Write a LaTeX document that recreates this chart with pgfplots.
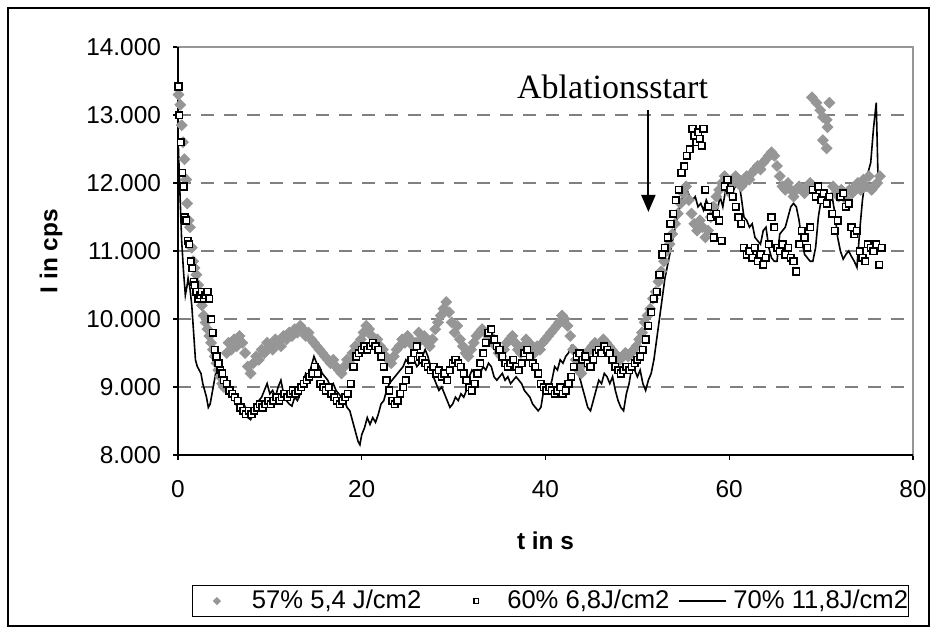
\documentclass[border=0pt]{standalone}
\usepackage{pgfplots}
\pgfplotsset{compat=1.18}
\usepackage{fontspec}
\setmainfont{Liberation Sans}
\newfontfamily\timesfont{Liberation Serif}
\usetikzlibrary{arrows.meta}
\definecolor{dgray}{RGB}{150,150,150}
\definecolor{ggray}{RGB}{128,128,128}
\begin{document}
\begin{tikzpicture}
\useasboundingbox (0pt,0pt) rectangle (468.5pt,316pt);
\draw[line width=0.6pt] (4pt,3pt) rectangle (464.5pt,312pt);
\begin{axis}[
  at={(89pt,88.5pt)}, anchor=south west,
  scale only axis, width=367.5pt, height=204pt,
  xmin=0, xmax=80, ymin=8000, ymax=14000,
  xtick={0,20,40,60,80}, ytick={8000,9000,10000,11000,12000,13000,14000},
  tick align=outside, xtick pos=bottom, ytick pos=left,
  major tick length=2.5pt,
  tick style={black, line width=0.6pt},
  axis line style={draw=dgray, line width=0.8pt},
  ymajorgrids,
  grid style={ggray, line width=0.8pt, dash pattern=on 6.5pt off 5pt},
  scaled y ticks=false,
  /pgf/number format/.cd, 1000 sep={.}, assume math mode=true,
  /pgfplots/.cd,
  ticklabel style={font=\fontsize{12.2}{14}\selectfont},
  xticklabel style={yshift=-6.5pt},
  yticklabel style={xshift=-2.5pt},
  xlabel={t in s}, ylabel={I in cps},
  label style={font=\fontsize{12.2}{14}\selectfont\bfseries},
  xlabel style={at={(axis description cs:0.5,-0.2108)}, anchor=center},
  ylabel style={at={(axis description cs:-0.1728,0.5)}, anchor=center},
  legend columns=3,
  legend style={at={(axis description cs:0.5068,-0.358)}, anchor=center,
    draw=black, line width=0.5pt, font=\fontsize{12.8}{14}\selectfont,
    inner xsep=0pt, inner ysep=2.5pt, column sep=0pt,
    nodes={inner sep=0pt, anchor=west}},
  clip=false,
]
\addplot[only marks, mark=square*, mark size=1.9pt, mark options={rotate=45, fill=dgray, draw=dgray},
  legend image code/.code={\path[draw=none,fill=none] (-12pt,-3pt) rectangle (17.5pt,3pt);
    \draw[mark size=1.2pt] plot coordinates {(0pt,0pt)};}] coordinates {
(0.05,13300) (0.25,13150) (0.4,12850) (0.55,12600) (0.7,12350) (0.9,12050) (1.0,11700) (1.15,11450) (1.3,11350) (1.5,11050) (1.65,10850) (1.8,10750) (2.0,10650) (2.2,10500) (2.4,10300) (2.6,10200) (2.8,10050) (3.0,9950) (3.2,9850) (3.4,9750) (3.6,9650) (3.8,9550) (4.0,9450) (4.2,9350) (4.4,9250) (4.6,9150) (4.8,9050) (5.0,9000) (5.3,9500) (5.5,9650) (5.8,9550) (6.1,9700) (6.4,9600) (6.7,9750) (7.0,9650) (7.3,9500) (7.6,9300) (7.9,9200) (8.2,9350) (8.5,9450) (8.8,9400) (9.1,9550) (9.4,9500) (9.7,9650) (10.0,9600) (10.3,9550) (10.6,9700) (10.9,9650) (11.2,9600) (11.5,9750) (11.8,9700) (12.1,9800) (12.4,9750) (12.7,9850) (13.0,9800) (13.3,9900) (13.6,9850) (13.9,9750) (14.2,9800) (14.5,9700) (14.8,9650) (15.1,9600) (15.4,9550) (15.7,9500) (16.0,9450) (16.3,9400) (16.6,9350) (16.9,9400) (17.2,9300) (17.5,9250) (17.8,9200) (18.1,9300) (18.4,9400) (18.7,9350) (19.0,9500) (19.3,9600) (19.6,9550) (19.9,9700) (20.2,9800) (20.5,9900) (20.8,9850) (21.1,9750) (21.4,9650) (21.7,9700) (22.0,9600) (22.3,9550) (22.6,9450) (22.9,9400) (23.2,9350) (23.5,9450) (23.8,9550) (24.1,9600) (24.4,9700) (24.7,9650) (25.0,9750) (25.3,9700) (25.6,9600) (25.9,9650) (26.2,9800) (26.5,9700) (26.8,9750) (27.1,9650) (27.4,9600) (27.7,9700) (28.0,9850) (28.3,9950) (28.6,10050) (28.9,10150) (29.2,10250) (29.5,10100) (29.8,9950) (30.1,9800) (30.4,9900) (30.7,9700) (31.0,9600) (31.3,9500) (31.6,9450) (31.9,9550) (32.2,9650) (32.5,9750) (32.8,9800) (33.1,9850) (33.4,9800) (33.7,9700) (34.0,9750) (34.3,9650) (34.6,9600) (34.9,9500) (35.2,9450) (35.5,9550) (35.8,9650) (36.1,9700) (36.4,9750) (36.7,9650) (37.0,9550) (37.3,9500) (37.6,9600) (37.9,9700) (38.2,9650) (38.5,9550) (38.8,9500) (39.1,9600) (39.4,9550) (39.7,9650) (40.0,9700) (40.3,9750) (40.6,9800) (40.9,9850) (41.2,9900) (41.5,9950) (41.8,10050) (42.1,10000) (42.4,9900) (42.7,9750) (43.0,9550) (43.3,9400) (43.6,9250) (43.9,9200) (44.2,9350) (44.5,9500) (44.8,9550) (45.1,9600) (45.4,9650) (45.7,9550) (46.0,9600) (46.3,9700) (46.6,9650) (46.9,9600) (47.2,9550) (47.5,9500) (47.8,9450) (48.1,9400) (48.4,9450) (48.7,9500) (49.0,9450) (49.3,9500) (49.6,9550) (49.9,9600) (50.2,9700) (50.5,9800) (50.8,9950) (51.1,10050) (51.4,10150) (51.7,10300) (52.0,10400) (52.3,10550) (52.6,10700) (52.9,10850) (53.2,11000) (53.5,11100) (53.8,11250) (54.1,11400) (54.4,11550) (54.7,11700) (55.0,11850) (55.3,11950) (55.6,11750) (55.9,11550) (56.2,11400) (56.5,11300) (56.8,11450) (57.1,11350) (57.4,11200) (57.7,11300) (58.0,11500) (58.3,11650) (58.6,11800) (58.9,11900) (59.2,12000) (59.5,12100) (59.8,11950) (60.1,11850) (60.4,12000) (60.7,12100) (61.0,12050) (61.3,11950) (61.6,12000) (61.9,12100) (62.2,12050) (62.5,12150) (62.8,12200) (63.1,12250) (63.4,12200) (63.7,12300) (64.0,12350) (64.3,12400) (64.6,12450) (64.9,12400) (65.2,12250) (65.5,12100) (65.8,11950) (66.1,11900) (66.4,12000) (66.7,11900) (67.0,11800) (67.3,11900) (67.6,11950) (67.9,11900) (68.2,11850) (68.5,11950) (68.8,12000) (69.0,13260) (69.5,13180) (69.9,13070) (70.2,12970) (70.6,12930) (70.9,13180) (70.7,12820) (70.2,12630) (70.6,12510) (71.3,11950) (71.6,11850) (71.9,11800) (72.2,11900) (72.5,11850) (72.8,11750) (73.1,11900) (73.4,11850) (73.7,11950) (74.0,12000) (74.3,11900) (74.6,12050) (74.9,11950) (75.2,12100) (75.5,11900) (75.8,11950) (76.1,12000) (76.4,12100)
};
\addlegendentry{57\% 5,4 J/cm2}
\addplot[only marks, mark=square*, mark size=1.65pt, mark options={fill=white, draw=black, line width=0.8pt},
  legend image code/.code={\path[draw=none,fill=none] (-27.5pt,-3pt) rectangle (15.5pt,3pt);
    \draw[mark size=1.2pt] plot coordinates {(0pt,0pt)};}] coordinates {
(0.05,13420) (0.12,13000) (0.3,12600) (0.45,12150) (0.6,11950) (0.75,11500) (0.9,11450) (1.05,11150) (1.2,11100) (1.4,10850) (1.55,10750) (1.7,10550) (1.85,10500) (2.0,10400) (2.2,10300) (2.4,10350) (2.6,10400) (2.8,10300) (3.0,10350) (3.2,10400) (3.4,10300) (3.6,10000) (3.8,9800) (4.0,9550) (4.2,9450) (4.4,9350) (4.6,9250) (4.8,9200) (5.0,9100) (5.3,9050) (5.6,8950) (5.9,8900) (6.2,8850) (6.5,8800) (6.8,8700) (7.1,8650) (7.4,8600) (7.7,8650) (8.0,8600) (8.3,8650) (8.6,8700) (8.9,8750) (9.2,8700) (9.5,8750) (9.8,8800) (10.1,8750) (10.4,8800) (10.7,8850) (11.0,8800) (11.3,8850) (11.6,8900) (11.9,8850) (12.2,8900) (12.5,8950) (12.8,8900) (13.1,8950) (13.4,9000) (13.7,9050) (14.0,9100) (14.3,9150) (14.6,9200) (14.9,9300) (15.2,9200) (15.5,9050) (15.8,9000) (16.1,8950) (16.4,9000) (16.7,8900) (17.0,8850) (17.3,8800) (17.6,8750) (17.9,8800) (18.2,8850) (18.5,8900) (18.8,9050) (19.1,9300) (19.4,9450) (19.7,9500) (20.0,9550) (20.3,9600) (20.6,9550) (20.9,9600) (21.2,9650) (21.5,9600) (21.8,9550) (22.1,9450) (22.4,9300) (22.7,9100) (23.0,8950) (23.3,8800) (23.6,8750) (23.9,8800) (24.2,8900) (24.5,9000) (24.8,9100) (25.1,9250) (25.4,9400) (25.7,9500) (26.0,9600) (26.3,9450) (26.6,9400) (26.9,9350) (27.2,9300) (27.5,9250) (27.8,9300) (28.1,9200) (28.4,9250) (28.7,9150) (29.0,9200) (29.3,9100) (29.6,9250) (29.9,9350) (30.2,9400) (30.5,9350) (30.8,9300) (31.1,9200) (31.4,9100) (31.7,9000) (32.0,8950) (32.3,9050) (32.6,9200) (32.9,9350) (33.2,9500) (33.5,9650) (33.8,9800) (34.1,9850) (34.4,9700) (34.7,9600) (35.0,9550) (35.3,9450) (35.6,9350) (35.9,9300) (36.2,9350) (36.5,9400) (36.8,9300) (37.1,9250) (37.4,9350) (37.7,9500) (38.0,9550) (38.3,9450) (38.6,9350) (38.9,9300) (39.2,9200) (39.5,9050) (39.8,9000) (40.1,8950) (40.4,9000) (40.7,8950) (41.0,8900) (41.3,8950) (41.6,9000) (41.9,8900) (42.2,8950) (42.5,9050) (42.8,9150) (43.1,9300) (43.4,9450) (43.7,9500) (44.0,9400) (44.3,9450) (44.6,9350) (44.9,9300) (45.2,9400) (45.5,9500) (45.8,9550) (46.1,9500) (46.4,9600) (46.7,9550) (47.0,9500) (47.3,9400) (47.6,9300) (47.9,9250) (48.2,9200) (48.5,9250) (48.8,9300) (49.1,9250) (49.4,9300) (49.7,9350) (50.0,9400) (50.3,9450) (50.6,9550) (50.9,9700) (51.2,9900) (51.5,10100) (51.8,10300) (52.1,10400) (52.4,10650) (52.7,10950) (53.0,11050) (53.3,11200) (53.6,11400) (53.9,11550) (54.2,11750) (54.5,11900) (54.8,12150) (55.1,12250) (55.4,12400) (55.7,12500) (56.0,12800) (56.2,12700) (56.4,12600) (56.6,12750) (56.8,12650) (57.0,12550) (57.2,12800) (57.4,11900) (57.7,11650) (58.0,11500) (58.3,11200) (58.6,11550) (58.9,11450) (59.2,11150) (59.5,11950) (59.8,12050) (60.1,11900) (60.4,11800) (60.7,11650) (61.0,11500) (61.3,11400) (61.6,11050) (61.9,10950) (62.2,11000) (62.5,10900) (62.8,11050) (63.1,10850) (63.4,10950) (63.7,10800) (64.0,10900) (64.3,11100) (64.6,11500) (64.9,11350) (65.2,11050) (65.5,11000) (65.8,11100) (66.1,10950) (66.4,11050) (66.7,10900) (67.0,10850) (67.3,10700) (67.6,11100) (67.9,11300) (68.2,11200) (68.5,11050) (68.8,11350) (69.1,11900) (69.4,11800) (69.7,11950) (70.0,11750) (70.3,11850) (70.6,11700) (70.9,11800) (71.2,11550) (71.5,11300) (71.8,11450) (72.1,11800) (72.4,11850) (72.7,11650) (73.0,11700) (73.3,11350) (73.6,11250) (73.9,11300) (74.2,11000) (74.5,10900) (74.8,10850) (75.1,11100) (75.4,11050) (75.7,11000) (76.0,11100) (76.3,10800) (76.6,11050)
};
\addlegendentry{60\% 6,8J/cm2}
\addplot[black, line width=0.8pt, mark=none,
  legend image code/.code={\path[draw=none,fill=none] (-5pt,-3pt) rectangle (27pt,3pt);
    \draw (0pt,0pt) -- (23.5pt,0pt);}] coordinates {
(0,12700) (0.2,11900) (0.4,11150) (0.6,10700) (0.8,10350) (1.0,10500) (1.1,10600) (1.3,10450) (1.5,10200) (1.7,9800) (1.9,9400) (2.1,9300) (2.3,9250) (2.5,9200) (2.7,9050) (2.9,8950) (3.1,8850) (3.3,8700) (3.5,8750) (3.7,8900) (3.9,9050) (4.1,9200) (4.3,9350) (4.5,9300) (4.7,9150) (4.9,9100) (5.1,9050) (5.3,9000) (5.5,8950) (5.7,9000) (5.9,8900) (6.1,8800) (6.3,8750) (6.5,8700) (6.8,8650) (7.0,8600) (7.3,8700) (7.6,8550) (7.9,8520) (8.2,8600) (8.5,8650) (8.8,8800) (9.1,8850) (9.4,8950) (9.7,9050) (10.0,8900) (10.3,8950) (10.6,8850) (10.9,9000) (11.2,9100) (11.5,8900) (11.8,8800) (12.1,8750) (12.4,8720) (12.7,8850) (13.0,8800) (13.3,8900) (13.6,9050) (13.9,9200) (14.2,9150) (14.5,9300) (14.8,9450) (15.1,9350) (15.4,9300) (15.7,9200) (16.0,9150) (16.3,9100) (16.6,9000) (16.9,9050) (17.2,8950) (17.5,8900) (17.8,8850) (18.1,8800) (18.4,8700) (18.7,8650) (19.0,8500) (19.3,8350) (19.6,8200) (19.8,8150) (20.0,8300) (20.3,8400) (20.6,8550) (20.9,8450) (21.2,8550) (21.5,8480) (21.8,8600) (22.1,8750) (22.4,8800) (22.7,8950) (23.0,9050) (23.3,9100) (23.6,9150) (23.9,9200) (24.2,9250) (24.5,9300) (24.8,9400) (25.1,9350) (25.4,9450) (25.7,9400) (26.0,9300) (26.3,9350) (26.6,9450) (26.9,9550) (27.2,9450) (27.5,9300) (27.8,9150) (28.1,9050) (28.4,8950) (28.7,9000) (29.0,8900) (29.3,8800) (29.6,8700) (29.9,8750) (30.2,8850) (30.5,8800) (30.8,8900) (31.1,8850) (31.4,8950) (31.7,9150) (32.0,9250) (32.3,9200) (32.6,9250) (32.9,9200) (33.2,9300) (33.5,9250) (33.8,9350) (34.1,9300) (34.4,9150) (34.7,9100) (35.0,9150) (35.3,9200) (35.6,9100) (35.9,9150) (36.2,9050) (36.5,9100) (36.8,9150) (37.1,9100) (37.4,9050) (37.7,8950) (38.0,8900) (38.3,8850) (38.6,8750) (38.9,8700) (39.2,8650) (39.5,8700) (39.8,8950) (40.1,9000) (40.4,8950) (40.7,9100) (41.0,9300) (41.3,9250) (41.6,9400) (41.9,9350) (42.2,9450) (42.5,9500) (42.8,9600) (43.1,9500) (43.4,9300) (43.7,9150) (44.0,9000) (44.3,8850) (44.6,8700) (44.9,8650) (45.2,8800) (45.5,8950) (45.8,9100) (46.1,9050) (46.4,9200) (46.7,9150) (47.0,9050) (47.3,9150) (47.6,8950) (47.9,8800) (48.2,8700) (48.5,8650) (48.8,8900) (49.1,9050) (49.4,9300) (49.7,9250) (50.0,9150) (50.3,9250) (50.6,9050) (50.9,8950) (51.2,9100) (51.5,9200) (51.8,9400) (52.1,9700) (52.4,10000) (52.7,10300) (53.0,10600) (53.3,10800) (53.6,11000) (53.9,11200) (54.2,11400) (54.5,11600) (54.8,11750) (55.1,11850) (55.4,11900) (55.7,11800) (56.0,11750) (56.3,11800) (56.6,11650) (56.9,11700) (57.2,11600) (57.5,11750) (57.8,11650) (58.1,11700) (58.4,11550) (58.7,11600) (59.0,11800) (59.3,11650) (59.6,11900) (59.9,11850) (60.2,11950) (60.5,11900) (60.8,12000) (61.0,12050) (61.3,11800) (61.6,11500) (61.9,11450) (62.2,11350) (62.5,11400) (62.8,11200) (63.1,11150) (63.4,11100) (63.7,11300) (64.0,11350) (64.3,11050) (64.6,10900) (64.9,10850) (65.2,10850) (65.5,11250) (65.8,11300) (66.1,11350) (66.4,11500) (66.7,11650) (67.0,11700) (67.3,11650) (67.6,11450) (67.9,11150) (68.2,10950) (68.5,10900) (68.8,10850) (69.1,10850) (69.4,11050) (69.7,11500) (70.0,11750) (70.3,11800) (70.6,11800) (70.9,11750) (71.2,11800) (71.5,11550) (71.8,11200) (72.1,11000) (72.4,10880) (72.7,10950) (73.0,11000) (73.3,10920) (73.6,10850) (73.9,10760) (74.2,11300) (74.5,11750) (74.8,12050) (75.1,12150) (75.4,12300) (75.7,12800) (76.0,13180) (76.2,12050)
};
\addlegendentry{70\% 11,8J/cm2\hspace{4.5pt}}
\draw[black, line width=1pt] (axis cs:0,14000) -- (axis cs:0,8000) -- (axis cs:80,8000);
\draw[black, line width=1pt, -{Triangle[width=7pt,length=8.5pt]}] (axis cs:51.2,13074) -- (axis cs:51.2,11574);
\node[font=\timesfont\fontsize{17}{19}\selectfont, anchor=center] at (axis cs:47.3,13412) {Ablationsstart};
\end{axis}
\end{tikzpicture}
\end{document}
